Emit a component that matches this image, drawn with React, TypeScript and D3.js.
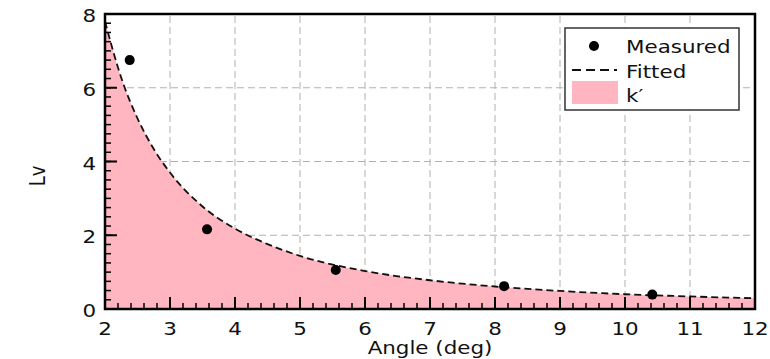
import React from 'react';
import * as d3 from 'd3';

// measured points
const measuredAngle = [2.38, 3.57, 5.55, 8.14, 10.42];
const measuredLv = [6.75, 2.16, 1.06, 0.62, 0.39];

// fitted curve
const fitAngle = [2, 2.25, 2.5, 2.75, 3, 3.5, 4, 4.5, 5, 6, 7, 8, 9, 10, 11, 12];
const fitLv = [7.8, 6.27, 5.17, 4.34, 3.7, 2.78, 2.18, 1.76, 1.44, 1.03, 0.78, 0.61, 0.49, 0.4, 0.34, 0.29];

const xTicks = [2, 3, 4, 5, 6, 7, 8, 9, 10, 11, 12];
const yTicks = [0, 2, 4, 6, 8];
const legendLabels = ['Measured', 'Fitted', 'k′'];

const width = 770, height = 359;
const margin = { top: 14, right: 15, bottom: 50, left: 105 };
const font = 'DejaVu Sans, sans-serif';
const sx = 1.19; // the source figure is a little wider than tall

export default function App() {
  const x = d3.scaleLinear().domain([2, 12]).range([margin.left, width - margin.right]);
  const y = d3.scaleLinear().domain([0, 8]).range([height - margin.bottom, margin.top]);
  const fit = fitAngle.map((a, i) => [a, fitLv[i]] as [number, number]);

  const line = d3.line<[number, number]>().x(d => x(d[0])).y(d => y(d[1])).curve(d3.curveMonotoneX);
  const area = d3.area<[number, number]>().x(d => x(d[0])).y0(y(0)).y1(d => y(d[1])).curve(d3.curveMonotoneX);

  const xMinor = d3.range(2, 12.001, 0.2);
  const yMinor = d3.range(0, 8.001, 0.25);
  const [x0, x1] = x.range();
  const [y0, y1] = y.range();

  const txt = (tx: number, ty: number) => `translate(${tx},${ty}) scale(${sx},1)`;

  return (
    <svg width={width} height={height} style={{ position: 'absolute', left: 0, top: 0 }} fontFamily={font}>
      <rect width={width} height={height} fill="#fff" />
      {/* grid */}
      {xTicks.map(t => (
        <line key={'gx' + t} x1={x(t)} x2={x(t)} y1={y0} y2={y1} stroke="#b0b0b0" strokeDasharray="7,4" />
      ))}
      {yTicks.map(t => (
        <line key={'gy' + t} x1={x0} x2={x1} y1={y(t)} y2={y(t)} stroke="#b0b0b0" strokeDasharray="7,4" />
      ))}

      <path d={area(fit) || ''} fill="#ffb6c1" />
      <path d={line(fit) || ''} fill="none" stroke="#111" strokeWidth={1.8} strokeDasharray="7,4" />
      {measuredAngle.map((a, i) => (
        <circle key={'m' + i} cx={x(a)} cy={y(measuredLv[i])} r={5} fill="#000" />
      ))}

      {/* inward ticks */}
      {xMinor.map((t, i) => (
        <line key={'xm' + i} x1={x(t)} x2={x(t)} y1={y0} y2={y0 - 6} stroke="#000" strokeWidth={1.5} />
      ))}
      {yMinor.map((t, i) => (
        <line key={'ym' + i} x1={x0} x2={x0 + 6} y1={y(t)} y2={y(t)} stroke="#000" strokeWidth={1.5} />
      ))}
      {xTicks.map(t => (
        <line key={'xt' + t} x1={x(t)} x2={x(t)} y1={y0} y2={y0 - 12} stroke="#000" strokeWidth={2} />
      ))}
      {yTicks.map(t => (
        <line key={'yt' + t} x1={x0} x2={x0 + 12} y1={y(t)} y2={y(t)} stroke="#000" strokeWidth={2} />
      ))}

      <rect x={x0} y={y1} width={x1 - x0} height={y0 - y1} fill="none" stroke="#000" strokeWidth={2.5} />

      {/* tick labels */}
      {xTicks.map(t => (
        <text key={'xl' + t} transform={txt(x(t), 335)} textAnchor="middle" fontSize={18} fill="#111">{t}</text>
      ))}
      {yTicks.map(t => (
        <text key={'yl' + t} transform={txt(96, y(t) + 8)} textAnchor="end" fontSize={18} fill="#111">{t}</text>
      ))}

      <text transform={txt((x0 + x1) / 2, 354)} textAnchor="middle" fontSize={18} fill="#111">Angle (deg)</text>
      <text transform={`translate(45,176) rotate(-90) scale(1,${sx})`} textAnchor="middle" fontSize={18} fill="#111">Lv</text>

      {/* legend */}
      <g>
        <rect x={565} y={28} width={174} height={82} fill="#fff" stroke="#333" strokeWidth={1.5} />
        <circle cx={594} cy={46} r={5} fill="#000" />
        <line x1={572} x2={617} y1={70} y2={70} stroke="#111" strokeWidth={1.8} strokeDasharray="9,5" />
        <rect x={572} y={81} width={46} height={23} fill="#ffb6c1" />
        {legendLabels.map((l, i) => (
          <text key={l} transform={txt(626, 53 + i * 24.5)} fontSize={18} fill="#111">{l}</text>
        ))}
      </g>
    </svg>
  );
}
